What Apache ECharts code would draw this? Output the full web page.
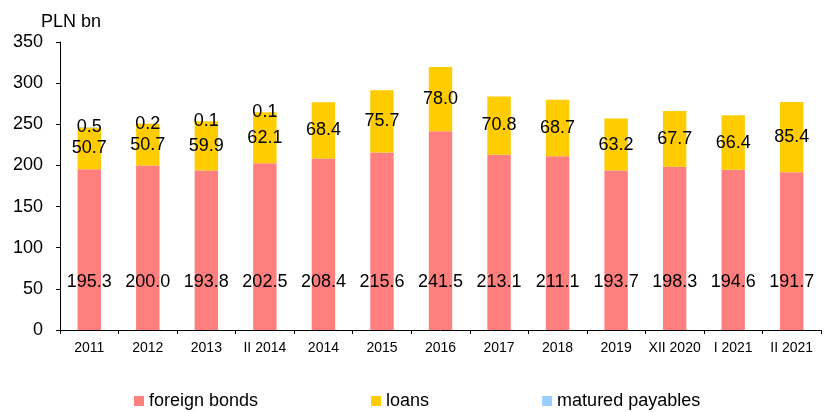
<!DOCTYPE html>
<html>
<head>
<meta charset="utf-8">
<script src="https://cdn.jsdelivr.net/npm/echarts@6/dist/echarts.min.js"></script>
<style>
  html, body { margin: 0; padding: 0; background: #fff; }
  #debt-chart { width: 833px; height: 412px; }
</style>
</head>
<body>
<div id="debt-chart"></div>
<script>
  var categories = ['2011', '2012', '2013', 'II 2014', '2014', '2015', '2016', '2017', '2018', '2019', 'XII 2020', 'I 2021', 'II 2021'];
  var foreignBonds = [195.3, 200.0, 193.8, 202.5, 208.4, 215.6, 241.5, 213.1, 211.1, 193.7, 198.3, 194.6, 191.7];
  var loans = [50.7, 50.7, 59.9, 62.1, 68.4, 75.7, 78.0, 70.8, 68.7, 63.2, 67.7, 66.4, 85.4];
  var maturedPayables = [0.5, 0.2, 0.1, 0.1, null, null, null, null, null, null, null, null, null];
  var yTicks = [0, 50, 100, 150, 200, 250, 300, 350];

  var fontName = '"Liberation Sans", Arial, sans-serif';

  function fmt(p) {
    return p.value == null ? '' : p.value.toFixed(1);
  }

  var chart = echarts.init(document.getElementById('debt-chart'));
  var option = {
    animation: false,
    textStyle: { fontFamily: fontName },
    title: {
      text: 'PLN bn',
      left: 36,
      top: 8,
      textStyle: { fontSize: 18, fontWeight: 'normal', color: '#000', fontFamily: fontName }
    },
    legend: {
      data: ['foreign bonds', 'loans', 'matured payables'],
      left: 129,
      top: 387,
      itemWidth: 10,
      itemHeight: 10,
      itemGap: 113,
      icon: 'rect',
      textStyle: { fontSize: 18, color: '#000', fontFamily: fontName }
    },
    grid: {
      left: 60,
      right: 12,
      top: 42,
      bottom: 82
    },
    xAxis: {
      type: 'category',
      data: categories,
      axisLine: { lineStyle: { color: '#000', width: 1 } },
      axisTick: { show: true, interval: 0, length: 4, lineStyle: { color: '#000' } },
      axisLabel: { color: '#000', fontSize: 14, margin: 11, interval: 0, fontFamily: fontName }
    },
    yAxis: {
      type: 'value',
      min: yTicks[0],
      max: yTicks[yTicks.length - 1],
      interval: 50,
      splitLine: { show: false },
      axisLine: { show: true, lineStyle: { color: '#000', width: 1 } },
      axisTick: { show: true, length: 4, lineStyle: { color: '#000' } },
      axisLabel: { color: '#000', fontSize: 18, margin: 17, fontFamily: fontName }
    },
    series: [
      {
        name: 'foreign bonds',
        type: 'bar',
        stack: 'total',
        barWidth: '40%',
        data: foreignBonds,
        itemStyle: { color: '#FF7F7F' },
        label: {
          show: true,
          position: 'insideBottom',
          distance: 39,
          color: '#000',
          fontSize: 18,
          fontFamily: fontName,
          formatter: fmt
        }
      },
      {
        name: 'loans',
        type: 'bar',
        stack: 'total',
        data: loans,
        itemStyle: { color: '#FFCC00' },
        label: {
          show: true,
          position: 'inside',
          color: '#000',
          fontSize: 18,
          fontFamily: fontName,
          formatter: fmt
        }
      },
      {
        name: 'matured payables',
        type: 'bar',
        stack: 'total',
        data: maturedPayables,
        itemStyle: { color: '#99CCFF' },
        label: {
          show: true,
          position: 'inside',
          color: '#000',
          fontSize: 18,
          fontFamily: fontName,
          formatter: fmt
        }
      }
    ]
  };
  chart.setOption(option);
</script>
</body>
</html>
